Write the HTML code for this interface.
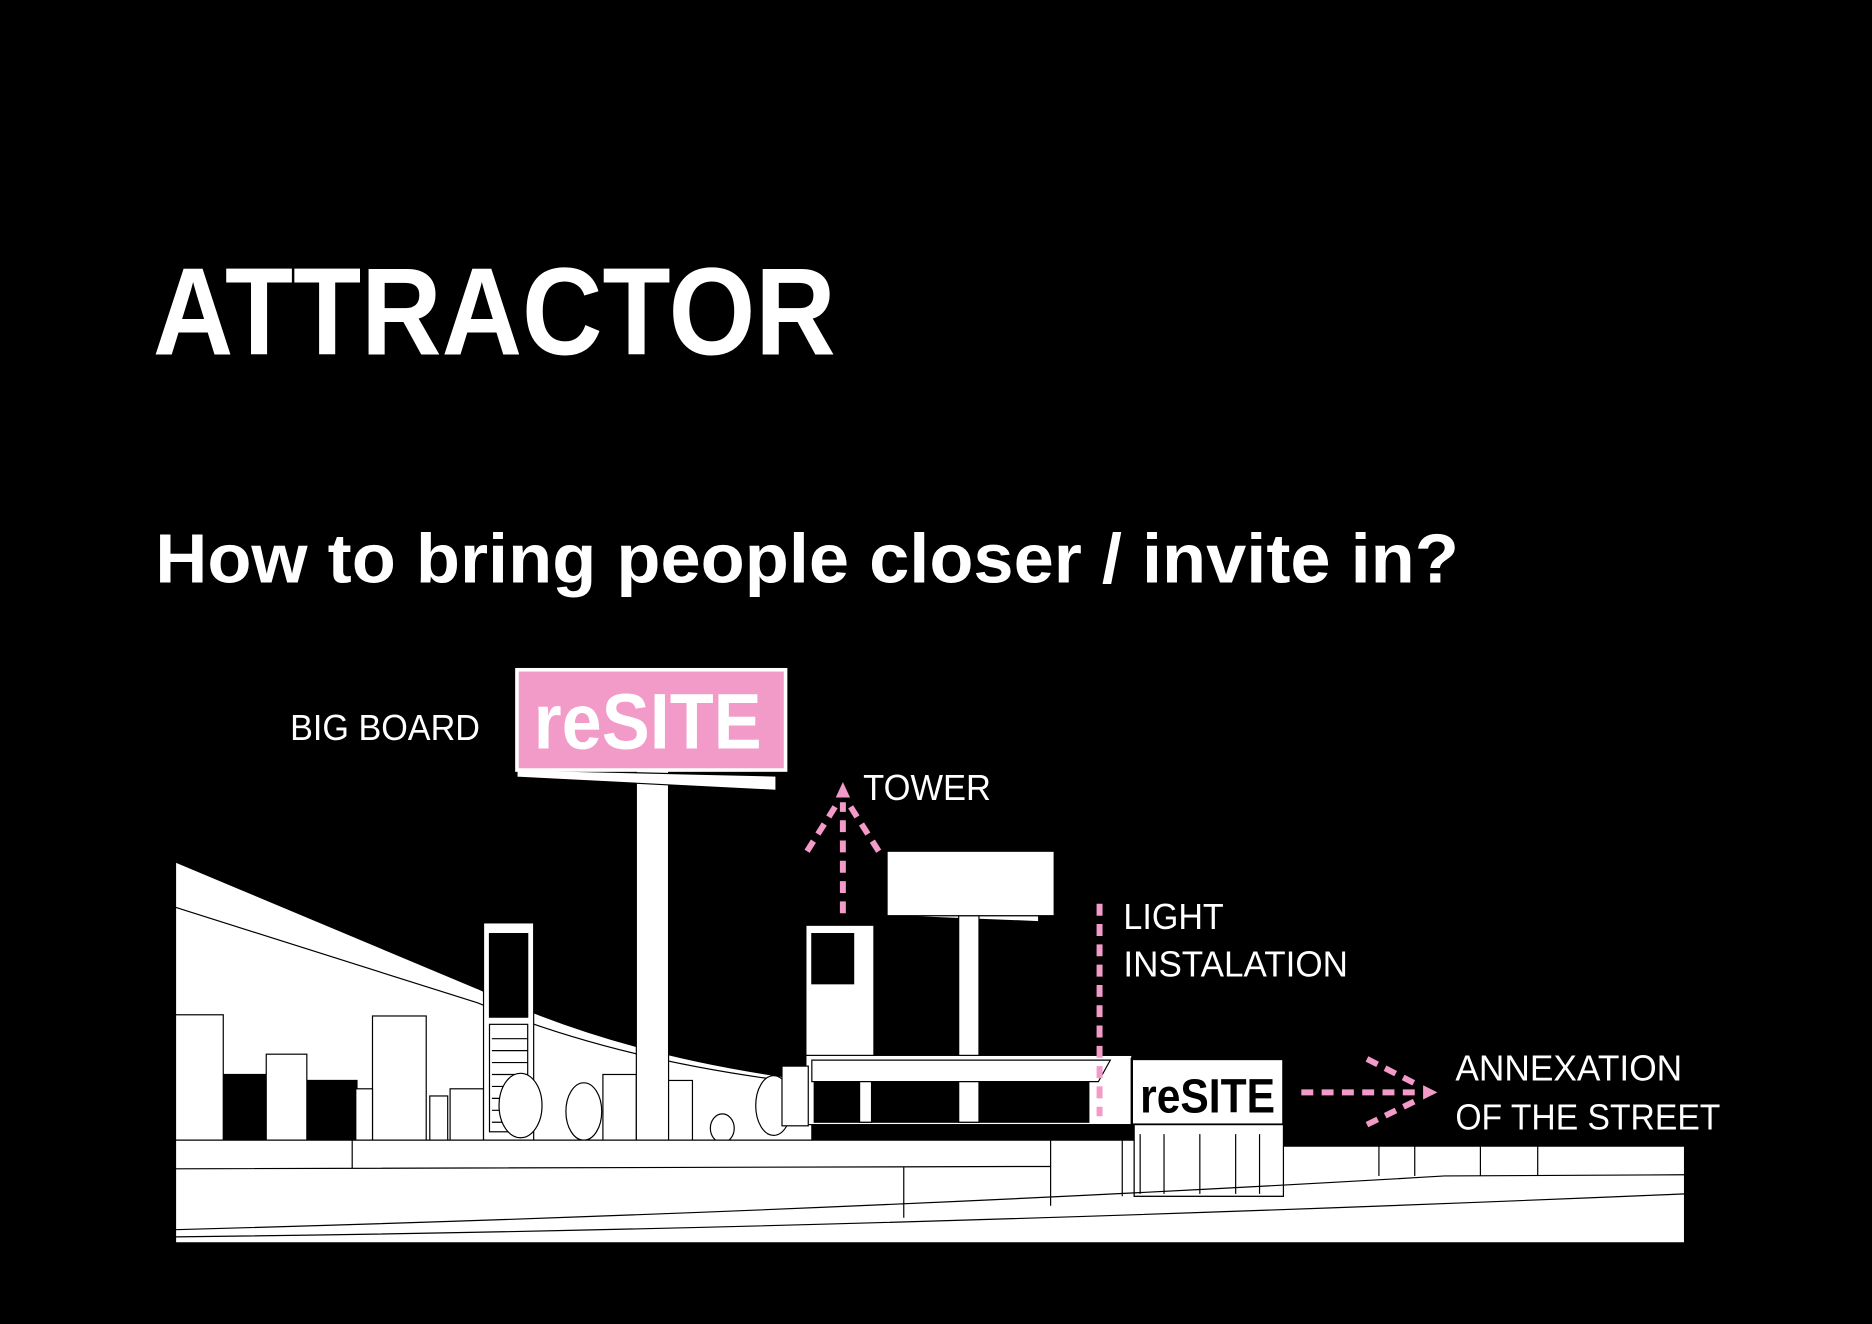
<!DOCTYPE html>
<html><head><meta charset="utf-8"><style>
html,body{margin:0;padding:0;background:#000;width:1872px;height:1324px;overflow:hidden}
svg{display:block}
text{font-family:"Liberation Sans",sans-serif;fill:#fff}
</style></head><body>
<svg width="1872" height="1324" viewBox="0 0 1568 1109" xmlns="http://www.w3.org/2000/svg">
<rect width="1568" height="1109" fill="#000"/>
<text x="128" y="297" font-size="104" font-weight="bold" textLength="572" lengthAdjust="spacingAndGlyphs">ATTRACTOR</text>
<text x="130" y="488" font-size="58" font-weight="bold" textLength="1092" lengthAdjust="spacingAndGlyphs">How to bring people closer / invite in?</text>
<text x="243" y="620" font-size="30" textLength="159" lengthAdjust="spacingAndGlyphs">BIG BOARD</text>
<text x="723" y="670" font-size="30" textLength="107" lengthAdjust="spacingAndGlyphs">TOWER</text>
<text x="941" y="778" font-size="30" textLength="84" lengthAdjust="spacingAndGlyphs">LIGHT</text>
<text x="941" y="818" font-size="30" textLength="188" lengthAdjust="spacingAndGlyphs">INSTALATION</text>
<text x="1219" y="905" font-size="30" textLength="190" lengthAdjust="spacingAndGlyphs">ANNEXATION</text>
<text x="1219" y="946" font-size="30" textLength="222" lengthAdjust="spacingAndGlyphs">OF THE STREET</text>

<g stroke="#000" stroke-width="1" fill="#fff">
<path d="M147,722 L400,828 Q520,885 680,905 L680,955 L147,955 Z"/>
<path d="M147,760 L400,840 Q520,890 680,908" fill="none"/>
<rect x="187" y="900" width="36" height="55" fill="#000"/>
<rect x="257" y="905" width="42" height="50" fill="#000"/>
<rect x="147" y="850" width="40" height="105"/>
<rect x="223" y="883" width="34" height="72"/>
<rect x="312" y="851" width="45" height="104"/>
<rect x="298" y="912" width="14" height="43"/>
<rect x="360" y="918" width="15" height="37"/>
<rect x="377" y="912" width="28" height="43"/>
<rect x="405" y="773" width="42" height="182"/>
<rect x="410" y="782" width="32" height="70" fill="#000"/>
<rect x="410" y="858" width="32" height="90" fill="none"/>
<g fill="none"><path d="M412,870h30M412,880h30M412,890h30M412,900h30M412,910h30M412,920h30M412,930h30M412,940h30"/></g>
<ellipse cx="436" cy="926" rx="18" ry="27"/>
<ellipse cx="489" cy="931" rx="15" ry="24"/>
<rect x="505" y="900" width="28" height="55"/>
<ellipse cx="648" cy="926" rx="15" ry="25"/>
<ellipse cx="605" cy="945" rx="10" ry="12"/>
<rect x="555" y="905" width="25" height="50"/>
<rect x="533" y="645" width="27" height="310"/>
<rect x="675" y="775" width="57" height="165"/>
<rect x="680" y="782" width="35" height="42" fill="#000"/>
<path d="M743,767 L870,772 L870,767 Z"/>
<rect x="803" y="767" width="17" height="175"/>
<rect x="743" y="713" width="140" height="54"/>
<rect x="675" y="884" width="273" height="58"/>
<rect x="682" y="905" width="230" height="35" fill="#000"/>
<rect x="720" y="905" width="10" height="35"/>
<rect x="803" y="905" width="17" height="35"/>
<path d="M680,888 L930,888 L920,906 L680,906 Z"/>
<rect x="655" y="893" width="22" height="50"/>
<rect x="948" y="887" width="127" height="55" stroke-width="2"/>
<path d="M147,955 L950,955 L950,1002 L1075,1002 L1075,960 L1411,960 L1411,1041 L147,1041 Z"/>
<rect x="950" y="942" width="125" height="60"/>
<g fill="none"><path d="M955,950v50M975,950v50M1005,950v50M1035,950v50M1055,950v50"/></g>
<path d="M147,979 L880,977 M295,955 L295,979 M757,977 L757,1020 M880,955 L880,1010 M940,955 L940,1002 M147,1030 Q700,1015 1210,985 L1411,984 M147,1036 Q700,1030 1411,1000" fill="none"/>
<g fill="none"><path d="M1155,960v25M1185,960v25M1240,960v25M1288,960v25"/></g>
<path d="M433,645 L650,650 L650,662 L433,651 Z"/>
</g>
<rect x="433" y="561" width="225" height="84" fill="#f29ac8" stroke="#fff" stroke-width="3"/>
<text x="447" y="627" font-size="66" font-weight="bold" textLength="191" lengthAdjust="spacingAndGlyphs">reSITE</text>
<text x="955" y="932" font-size="40" font-weight="bold" textLength="113" lengthAdjust="spacingAndGlyphs" style="fill:#000">reSITE</text>

<g stroke="#f29ac8" stroke-width="5" fill="none" stroke-dasharray="10 7">
<path d="M706,765 L706,672"/>
<path d="M676,713 L700,675"/>
<path d="M736,713 L712,675"/>
<path d="M921,757 L921,935"/>
<path d="M1090,915 L1190,915"/>
<path d="M1145,887 L1190,910"/>
<path d="M1145,942 L1190,920"/>
</g>
<path d="M706,655 L700,668 L712,668 Z" fill="#f29ac8"/>
<path d="M1204,915 L1192,909 L1192,921 Z" fill="#f29ac8"/>
</svg>
</body></html>
